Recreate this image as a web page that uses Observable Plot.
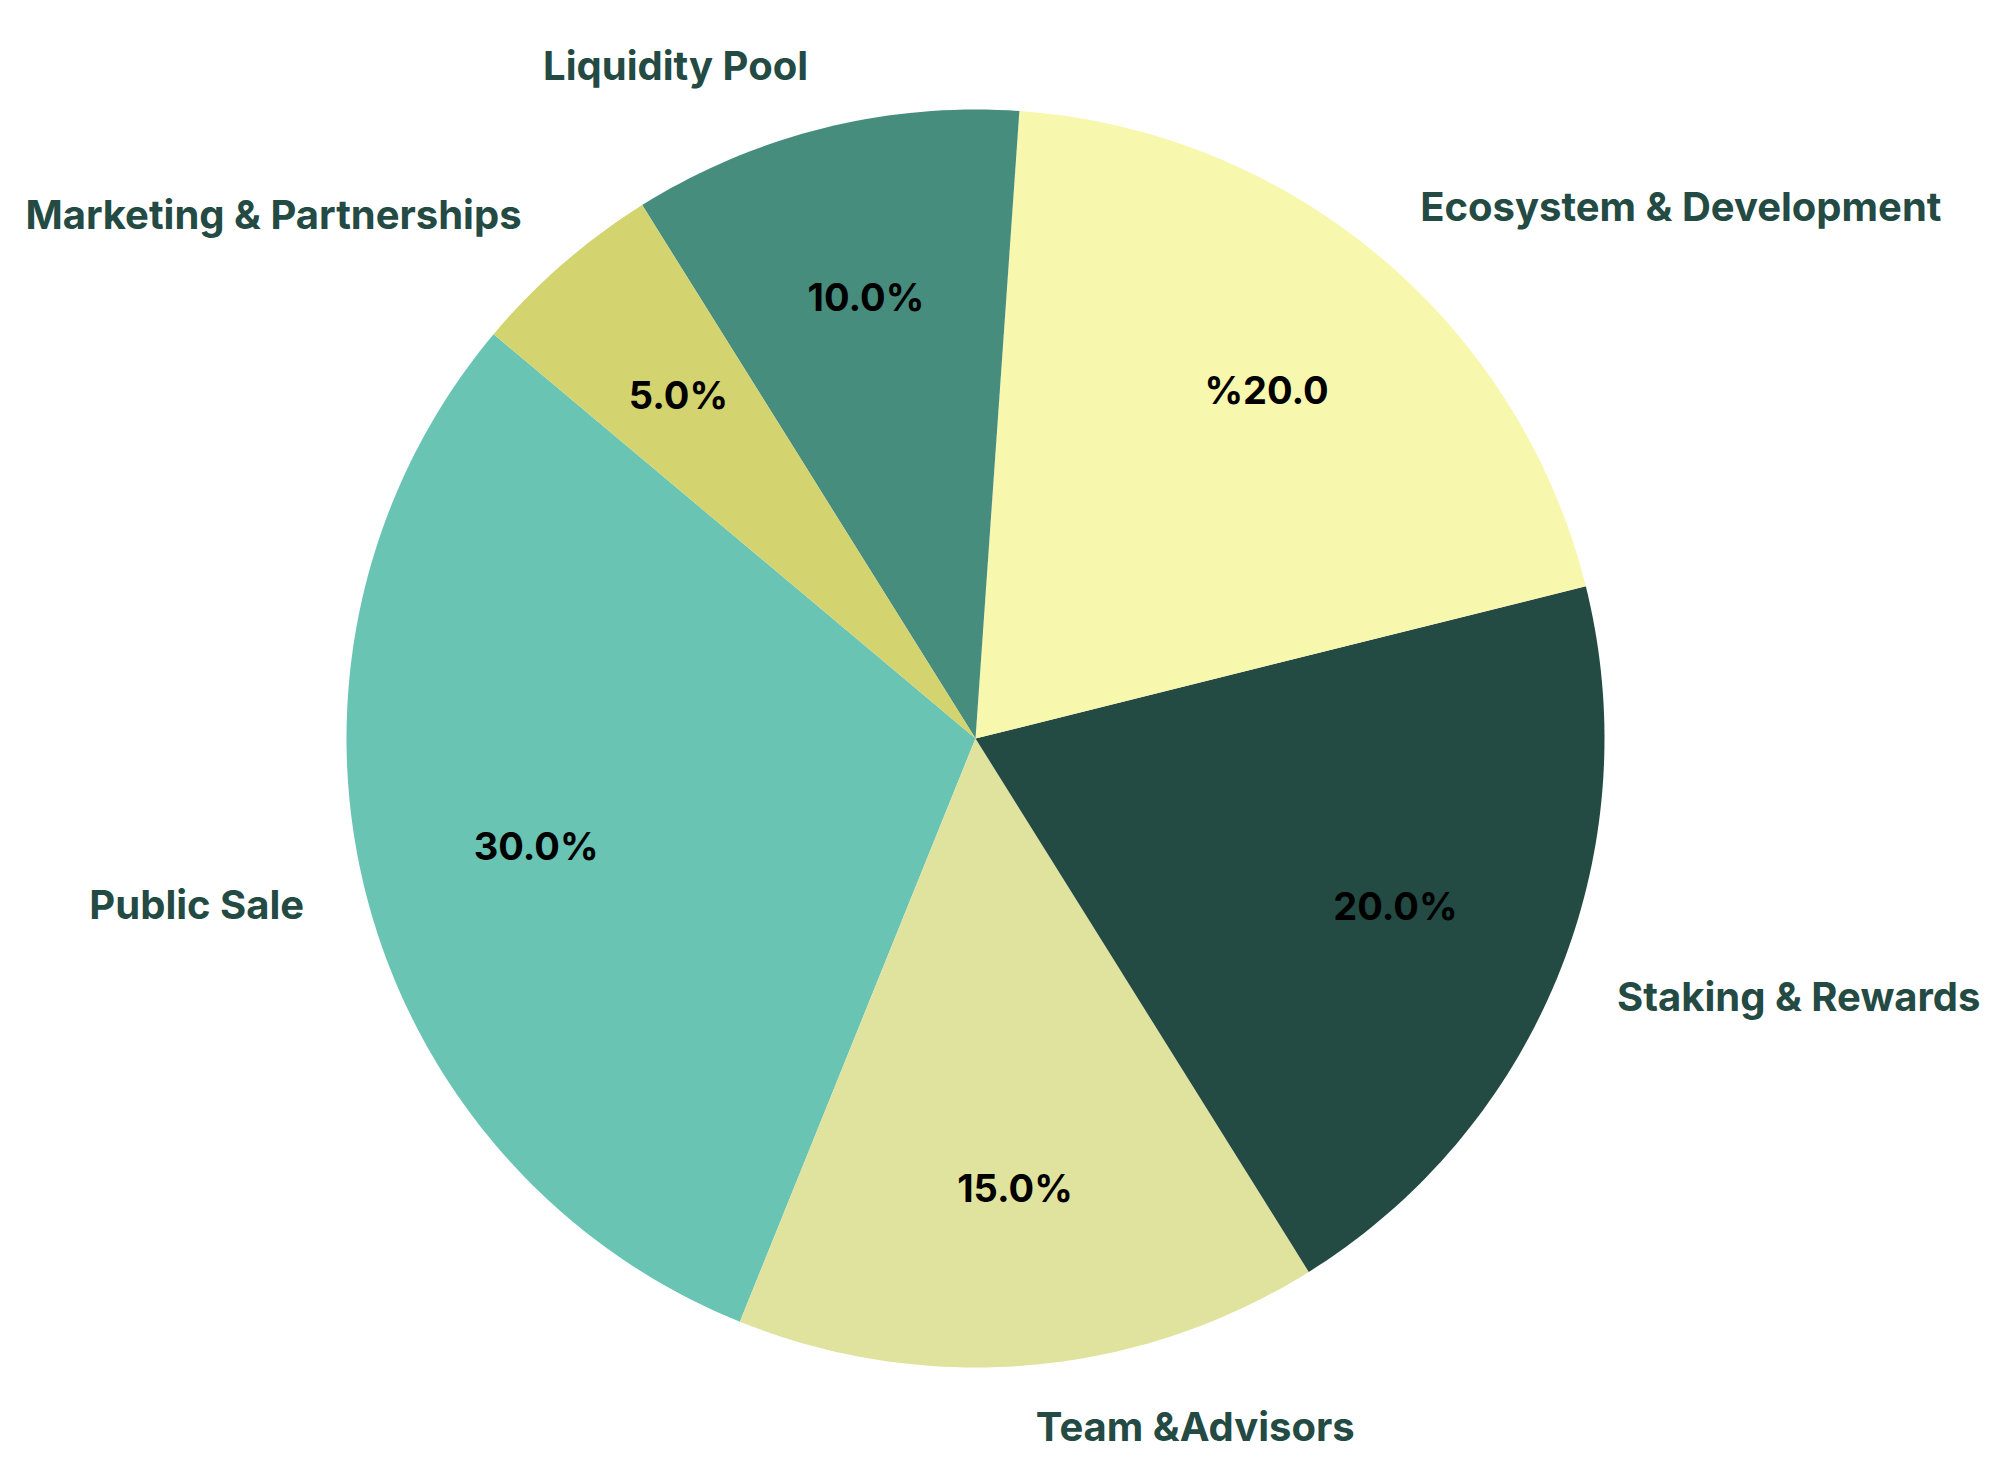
<!DOCTYPE html>
<html><head><meta charset="utf-8">
<script src="https://cdn.jsdelivr.net/npm/d3@7"></script>
<script src="https://cdn.jsdelivr.net/npm/@observablehq/plot@0.6"></script>
<style>body{margin:0;background:#fff;} svg{display:block;}</style>
</head><body><div id="chart"></div>
<script>
// ---- data ----
const categories = ["Public Sale", "Team &Advisors", "Staking & Rewards", "Ecosystem & Development", "Liquidity Pool", "Marketing & Partnerships"];
const shares = [30, 15, 20, 20, 10, 5];
const pctLabels = ["30.0%", "15.0%", "20.0%", "%20.0", "10.0%", "5.0%"];
const colors = ["#6ac4b3", "#e0e39d", "#234a43", "#f7f7ae", "#468d7e", "#d3d36f"];

// ---- layout ----
const W = 2012, H = 1473, CX = 975, CY = 738, R = 629;
const startDeg = 140;           // counter-clockwise from 3 o'clock
const labelDistance = 1.1, pctDistance = 0.72;

const a0 = (90 - startDeg) * Math.PI / 180;
const table = categories.map((name, i) => ({name, value: shares[i], pct: pctLabels[i]}));
const arcs = d3.pie().sort(null).value(d => d.value).startAngle(a0).endAngle(a0 - 2 * Math.PI)(table);

// slice outlines in unit coordinates (y up)
const slicePts = [];
arcs.forEach(a => {
  slicePts.push({name: a.data.name, x: 0, y: 0});
  const n = Math.max(8, Math.ceil(Math.abs(a.endAngle - a.startAngle) * 180 / Math.PI));
  for (let k = 0; k <= n; k++) {
    const t = a.startAngle + (a.endAngle - a.startAngle) * k / n;
    slicePts.push({name: a.data.name, x: Math.sin(t), y: Math.cos(t)});
  }
});
const mids = arcs.map(a => {
  const m = (a.startAngle + a.endAngle) / 2;
  return {name: a.data.name, pct: a.data.pct, sx: Math.sin(m), sy: Math.cos(m)};
});

const chart = Plot.plot({
  width: W, height: H, margin: 0,
  x: {domain: [-CX / R, (W - CX) / R], axis: null},
  y: {domain: [-(H - CY) / R, CY / R], axis: null},
  color: {domain: categories, range: colors},
  style: {fontFamily: "Inter, 'Noto Sans', sans-serif", background: "#fff"},
  marks: [
    Plot.line(slicePts, {x: "x", y: "y", z: "name", fill: "name", stroke: "none", curve: "linear-closed"}),
    Plot.text(mids, {x: d => d.sx * pctDistance, y: d => d.sy * pctDistance, text: "pct",
      fontSize: 38, fontWeight: 700, fill: "#000", textAnchor: "middle", lineAnchor: "middle"}),
    Plot.text(mids.filter(d => d.sx >= 0), {x: d => d.sx * labelDistance, y: d => d.sy * labelDistance, text: "name",
      fontSize: 40, fontWeight: 700, fill: "#234a43", textAnchor: "start", lineAnchor: "middle"}),
    Plot.text(mids.filter(d => d.sx < 0), {x: d => d.sx * labelDistance, y: d => d.sy * labelDistance, text: "name",
      fontSize: 40, fontWeight: 700, fill: "#234a43", textAnchor: "end", lineAnchor: "middle"})
  ]
});
document.getElementById("chart").appendChild(chart);
</script>
</body></html>
